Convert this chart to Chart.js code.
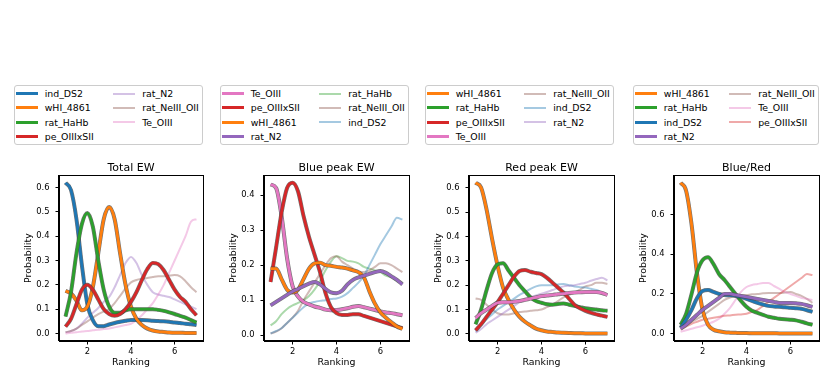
<!DOCTYPE html>
<html><head><meta charset="utf-8">
<script src="https://cdn.jsdelivr.net/npm/chart.js@4/dist/chart.umd.min.js"></script>
<style>
body{margin:0;width:830px;height:381px;background:#fff;position:relative;overflow:hidden;font-family:"DejaVu Sans",sans-serif;}
canvas{position:absolute;}
.leg{position:absolute;top:85px;height:60px;box-sizing:border-box;border:1px solid #cccccc;border-radius:3px;background:#fff;padding:0.6px 3.5px 0.6px 1.5px;display:grid;grid-auto-flow:column;grid-template-rows:repeat(4,14.2px);column-gap:19.7px;font-size:9.4px;color:#000;}
.item{display:flex;align-items:center;white-space:nowrap;}
.h{width:22px;margin-right:6.7px;flex:none;}
</style></head><body>
<script>
// ---- data ----
const xs = [1,1.25,1.5,1.75,2,2.25,2.5,2.75,3,3.25,3.5,3.75,4,4.25,4.5,4.75,5,5.25,5.5,5.75,6,6.25,6.5,6.75,7];
const xTicks = [2,4,6];
const titles = ['Total EW','Blue peak EW','Red peak EW','Blue/Red'];
const yTicks1 = [0,0.1,0.2,0.3,0.4,0.5,0.6];
const yTicks2 = [0,0.1,0.2,0.3,0.4];
const yTicks3 = [0,0.1,0.2,0.3,0.4,0.5,0.6];
const yTicks4 = [0,0.2,0.4,0.6];

// Total EW
const t_ind_DS2 = [0.62,0.59,0.47,0.28,0.12,0.055,0.03,0.03,0.037,0.043,0.048,0.052,0.055,0.055,0.055,0.054,0.052,0.051,0.05,0.048,0.045,0.043,0.04,0.038,0.035];
const t_wHI_4861 = [0.175,0.165,0.135,0.095,0.11,0.19,0.33,0.47,0.52,0.47,0.33,0.2,0.11,0.06,0.035,0.02,0.012,0.008,0.006,0.004,0.003,0.003,0.002,0.002,0.002];
const t_rat_HaHb = [0.07,0.17,0.33,0.45,0.495,0.44,0.3,0.18,0.11,0.085,0.085,0.095,0.1,0.1,0.1,0.1,0.1,0.097,0.093,0.087,0.08,0.072,0.065,0.055,0.045];
const t_pe_OIIIxSII = [0.028,0.06,0.12,0.18,0.2,0.18,0.14,0.1,0.08,0.073,0.08,0.1,0.13,0.17,0.22,0.265,0.29,0.285,0.26,0.22,0.18,0.15,0.13,0.1,0.075];
const t_rat_N2 = [0.005,0.01,0.02,0.04,0.065,0.085,0.105,0.13,0.15,0.19,0.24,0.29,0.315,0.29,0.24,0.2,0.17,0.16,0.155,0.15,0.14,0.13,0.12,0.11,0.1];
const t_rat_NeIII_OII = [0.005,0.01,0.02,0.035,0.05,0.065,0.08,0.09,0.1,0.125,0.155,0.185,0.21,0.22,0.225,0.228,0.232,0.235,0.235,0.238,0.24,0.235,0.215,0.19,0.17];
const t_Te_OIII = [0,0.003,0.005,0.008,0.01,0.013,0.015,0.018,0.02,0.025,0.03,0.035,0.04,0.055,0.075,0.1,0.125,0.16,0.2,0.25,0.3,0.35,0.4,0.46,0.47];

// Blue peak EW
const b_Te_OIII = [0.43,0.42,0.34,0.22,0.14,0.11,0.095,0.088,0.082,0.078,0.073,0.071,0.072,0.074,0.077,0.081,0.083,0.08,0.076,0.072,0.068,0.065,0.063,0.06,0.057];
const b_pe_OIIIxSII = [0.152,0.25,0.35,0.42,0.435,0.41,0.34,0.28,0.23,0.18,0.12,0.08,0.063,0.058,0.058,0.06,0.06,0.055,0.05,0.045,0.04,0.035,0.03,0.025,0.02];
const b_wHI_4861 = [0.19,0.19,0.16,0.13,0.122,0.13,0.16,0.19,0.205,0.207,0.2,0.198,0.195,0.193,0.19,0.185,0.18,0.165,0.125,0.09,0.065,0.05,0.037,0.025,0.018];
const b_rat_N2 = [0.085,0.095,0.105,0.115,0.125,0.132,0.14,0.147,0.152,0.145,0.132,0.122,0.12,0.127,0.145,0.158,0.165,0.17,0.175,0.18,0.183,0.178,0.168,0.158,0.145];
const b_rat_HaHb = [0.028,0.04,0.06,0.075,0.085,0.092,0.1,0.112,0.13,0.155,0.185,0.21,0.225,0.22,0.212,0.21,0.205,0.195,0.19,0.185,0.18,0.17,0.165,0.155,0.15];
const b_rat_NeIII_OII = [0.005,0.01,0.02,0.035,0.05,0.07,0.1,0.125,0.15,0.175,0.2,0.22,0.225,0.21,0.2,0.19,0.18,0.18,0.185,0.195,0.205,0.205,0.2,0.19,0.18];
const b_ind_DS2 = [0.005,0.012,0.02,0.035,0.05,0.065,0.08,0.09,0.095,0.098,0.1,0.103,0.105,0.11,0.12,0.135,0.15,0.17,0.2,0.23,0.26,0.285,0.31,0.335,0.33];

// Red peak EW
const r_wHI_4861 = [0.62,0.6,0.51,0.39,0.28,0.19,0.14,0.1,0.07,0.05,0.035,0.022,0.015,0.01,0.008,0.006,0.005,0.004,0.003,0.003,0.002,0.002,0.002,0.002,0.002];
const r_rat_HaHb = [0.04,0.1,0.18,0.25,0.285,0.29,0.26,0.23,0.2,0.175,0.15,0.135,0.128,0.122,0.12,0.123,0.125,0.12,0.115,0.11,0.105,0.102,0.1,0.097,0.095];
const r_pe_OIIIxSII = [0.015,0.04,0.07,0.1,0.13,0.165,0.2,0.235,0.258,0.262,0.255,0.25,0.245,0.23,0.21,0.19,0.17,0.145,0.12,0.105,0.095,0.087,0.08,0.075,0.07];
const r_Te_OIII = [0.065,0.085,0.1,0.115,0.128,0.13,0.13,0.132,0.135,0.14,0.145,0.15,0.155,0.158,0.16,0.163,0.165,0.168,0.17,0.171,0.172,0.172,0.172,0.168,0.16];
const r_rat_NeIII_OII = [0.145,0.14,0.12,0.1,0.085,0.08,0.08,0.085,0.09,0.092,0.095,0.097,0.1,0.11,0.12,0.135,0.15,0.16,0.17,0.182,0.195,0.2,0.21,0.21,0.205];
const r_ind_DS2 = [0.01,0.035,0.06,0.08,0.1,0.115,0.13,0.145,0.16,0.172,0.185,0.195,0.2,0.2,0.2,0.203,0.205,0.2,0.195,0.192,0.19,0.185,0.18,0.17,0.16];
const r_rat_N2 = [0.005,0.02,0.04,0.055,0.07,0.085,0.1,0.115,0.13,0.14,0.15,0.158,0.165,0.172,0.18,0.188,0.195,0.198,0.2,0.205,0.21,0.218,0.225,0.23,0.22];

// Blue/Red
const q_wHI_4861 = [0.76,0.72,0.55,0.3,0.12,0.045,0.02,0.012,0.007,0.005,0.004,0.003,0.003,0.002,0.002,0.002,0.002,0.002,0.001,0.001,0.001,0.001,0.001,0.001,0.001];
const q_rat_HaHb = [0.045,0.1,0.2,0.31,0.37,0.385,0.35,0.3,0.27,0.235,0.2,0.165,0.135,0.115,0.105,0.095,0.085,0.08,0.075,0.072,0.07,0.067,0.06,0.052,0.045];
const q_ind_DS2 = [0.03,0.07,0.12,0.18,0.215,0.22,0.21,0.2,0.195,0.193,0.19,0.185,0.175,0.165,0.155,0.147,0.14,0.137,0.135,0.133,0.13,0.128,0.125,0.118,0.11];
const q_rat_N2 = [0.025,0.045,0.07,0.095,0.12,0.14,0.16,0.18,0.2,0.2,0.195,0.19,0.185,0.18,0.175,0.17,0.165,0.16,0.155,0.155,0.155,0.153,0.15,0.143,0.135];
const q_rat_NeIII_OII = [0.03,0.045,0.06,0.075,0.09,0.11,0.13,0.15,0.17,0.182,0.19,0.193,0.195,0.198,0.2,0.203,0.205,0.205,0.205,0.207,0.21,0.2,0.19,0.175,0.155];
const q_Te_OIII = [0.01,0.017,0.025,0.032,0.04,0.05,0.06,0.075,0.1,0.13,0.17,0.21,0.235,0.245,0.25,0.255,0.255,0.24,0.225,0.21,0.2,0.19,0.18,0.175,0.17];
const q_pe_OIIIxSII = [0.02,0.035,0.05,0.06,0.07,0.075,0.08,0.085,0.09,0.092,0.095,0.097,0.1,0.11,0.12,0.14,0.16,0.18,0.2,0.22,0.24,0.26,0.28,0.3,0.295];

// ---- styling ----
const colorOf = {
  ind_DS2:[31,119,180], wHI_4861:[255,127,14], rat_HaHb:[44,160,44], pe_OIIIxSII:[214,39,40],
  rat_N2:[148,103,189], rat_NeIII_OII:[140,86,75], Te_OIII:[227,119,194]
};
const rgba = (c,a)=>`rgba(${c[0]},${c[1]},${c[2]},${a})`;

const panels = [
  {title:titles[0], L:59, R:203, yTicks:yTicks1,
   bold:[['ind_DS2',t_ind_DS2],['wHI_4861',t_wHI_4861],['rat_HaHb',t_rat_HaHb],['pe_OIIIxSII',t_pe_OIIIxSII]],
   faint:[['rat_N2',t_rat_N2],['rat_NeIII_OII',t_rat_NeIII_OII],['Te_OIII',t_Te_OIII]]},
  {title:titles[1], L:264, R:409, yTicks:yTicks2,
   bold:[['Te_OIII',b_Te_OIII],['pe_OIIIxSII',b_pe_OIIIxSII],['wHI_4861',b_wHI_4861],['rat_N2',b_rat_N2]],
   faint:[['rat_HaHb',b_rat_HaHb],['rat_NeIII_OII',b_rat_NeIII_OII],['ind_DS2',b_ind_DS2]]},
  {title:titles[2], L:469, R:614, yTicks:yTicks3,
   bold:[['wHI_4861',r_wHI_4861],['rat_HaHb',r_rat_HaHb],['pe_OIIIxSII',r_pe_OIIIxSII],['Te_OIII',r_Te_OIII]],
   faint:[['rat_NeIII_OII',r_rat_NeIII_OII],['ind_DS2',r_ind_DS2],['rat_N2',r_rat_N2]]},
  {title:titles[3], L:674, R:819, yTicks:yTicks4,
   bold:[['wHI_4861',q_wHI_4861],['rat_HaHb',q_rat_HaHb],['ind_DS2',q_ind_DS2],['rat_N2',q_rat_N2]],
   faint:[['rat_NeIII_OII',q_rat_NeIII_OII],['Te_OIII',q_Te_OIII],['pe_OIIIxSII',q_pe_OIIIxSII]]}
];

const FONT = 'DejaVu Sans';
const boxPlugin = {
  id:'box',
  afterDraw(chart){
    const {ctx, chartArea:a} = chart;
    ctx.save();
    ctx.strokeStyle = '#000'; ctx.lineWidth = 1;
    ctx.strokeRect(Math.round(a.left)-0.5, Math.round(a.top)+0.5, Math.round(a.right-a.left)+1, Math.round(a.bottom-a.top)-1);
    ctx.restore();
  }
};

panels.forEach((p, pi) => {
  // legend (HTML, column-major like the original)
  const leg = document.createElement('div');
  leg.className = 'leg';
  leg.style.right = (830 - p.R - 0.3) + 'px';
  [...p.bold.map(s=>[s[0],true]), ...p.faint.map(s=>[s[0],false])].forEach(([name,isBold])=>{
    const it = document.createElement('div'); it.className='item';
    const h = document.createElement('div'); h.className='h';
    h.style.height = isBold ? '3px' : '2.2px';
    h.style.background = rgba(colorOf[name], isBold?1:0.4);
    const t = document.createElement('span'); t.textContent = name;
    it.appendChild(h); it.appendChild(t); leg.appendChild(it);
  });
  document.body.appendChild(leg);

  // chart
  const cv = document.createElement('canvas');
  const W = p.R - p.L + 56, H = 231;
  cv.width = W; cv.height = H;
  cv.style.left = (p.L - 50) + 'px'; cv.style.top = '150px';
  cv.style.width = W + 'px'; cv.style.height = H + 'px';
  document.body.appendChild(cv);

  const all = [...p.bold, ...p.faint].flatMap(s=>s[1]);
  const lo = Math.min(...all), hi = Math.max(...all), pad = 0.05*(hi-lo);

  const mk = arr => xs.map((x,i)=>({x, y:arr[i]}));
  const ds = [];
  p.faint.forEach(([name,arr])=>ds.push({label:name, data:mk(arr), borderColor:rgba(colorOf[name],0.4), borderWidth:2, pointRadius:0, cubicInterpolationMode:'monotone', fill:false}));
  p.bold.forEach(([name,arr])=>{
    ds.push({label:name+' outline', data:mk(arr), borderColor:'rgba(70,70,70,0.75)', borderWidth:4, pointRadius:0, cubicInterpolationMode:'monotone', fill:false});
    ds.push({label:name, data:mk(arr), borderColor:rgba(colorOf[name],1), borderWidth:2.8, pointRadius:0, cubicInterpolationMode:'monotone', fill:false});
  });
  ds.forEach((d,i)=>{ d.order = ds.length - i; });

  new Chart(cv, {
    type:'line',
    data:{datasets:ds},
    plugins:[boxPlugin],
    options:{
      responsive:false, animation:false, devicePixelRatio:1,
      layout:{padding:{left:0,right:6,top:0,bottom:0}},
      plugins:{
        legend:{display:false}, tooltip:{enabled:false},
        title:{display:true, fullSize:false, text:p.title, color:'#000', font:{family:FONT, size:11, weight:'normal', lineHeight:1.2}, padding:{top:12,bottom:0}}
      },
      scales:{
        x:{type:'linear', min:0.7, max:7.3,
           afterBuildTicks:s=>{ s.ticks = xTicks.map(v=>({value:v})); },
           afterFit:s=>{ s.height = 40; },
           grid:{drawOnChartArea:false, drawTicks:true, tickLength:3.5, color:'#000'},
           border:{display:true, color:'#000'},
           ticks:{color:'#000', font:{family:FONT, size:8.4}, padding:2, maxRotation:0, callback:v=>String(v)},
           title:{display:true, text:'Ranking', color:'#000', font:{family:FONT, size:9.4}, padding:{top:0,bottom:12.4}}
        },
        y:{type:'linear', min:lo-pad, max:hi+pad,
           afterBuildTicks:s=>{ s.ticks = p.yTicks.map(v=>({value:v})); },
           afterFit:s=>{ s.width = 50; },
           grid:{drawOnChartArea:false, drawTicks:true, tickLength:3.5, color:'#000'},
           border:{display:true, color:'#000'},
           ticks:{color:'#000', font:{family:FONT, size:8.4}, padding:6, callback:v=>Number(v).toFixed(1)},
           title:{display:true, text:'Probability', color:'#000', font:{family:FONT, size:9.4}, padding:{top:13.7,bottom:0}}
        }
      }
    }
  });
});
</script>
</body></html>
